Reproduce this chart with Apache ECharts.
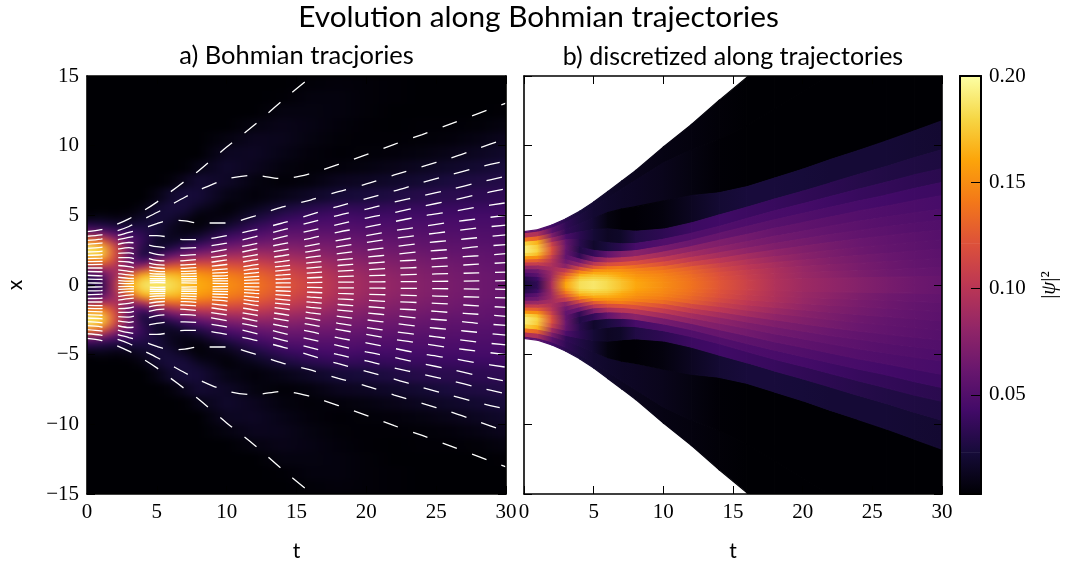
<!DOCTYPE html>
<html><head><meta charset="utf-8">
<style>
html,body{margin:0;padding:0;background:#fff}
#c{width:1077px;height:567px}
canvas[data-zr-dom-id="zr_0"]{background:#000;filter:blur(3px);clip-path:inset(76px 571px 73px 87px)}
canvas[data-zr-dom-id="zr_1"]{filter:blur(.5px);clip-path:inset(76px 135px 73px 524px)}
</style>
<script src="https://cdn.jsdelivr.net/npm/echarts@6/dist/echarts.min.js"></script>
</head><body><div id="c"></div>
<script>
const mainTitle='Evolution along Bohmian trajectories';
const titleA='a) Bohmian tracjories', titleB='b) discretized along trajectories';
const infernoStops=['#000004','#160b39','#420a68','#6a176e','#932667','#bc3754','#dd513a','#f37819','#fca50a','#f6d746','#fcffa4'];
const vMin=0.0034, vMax=0.2;
const cbarTicks=[0.05,0.10,0.15,0.20];
const tSamples=[0,1,2,3,4,5,6,7,8,10,12,14,16,18,20,22,24,26,28,30];
// upper half rows of the |psi|^2 picture (mirrored about x=0), thousandths, one list per tSample; missing tail = 1
const rowEdges=[0,.5,1,1.5,2,2.5,3,3.5,4,4.5,5,5.5,6,7,8,9,10,11,12,13,14,15];
const rho=[
[22,38,80,140,185,190,140,70,35,12,3,1],
[35,55,92,145,178,172,125,66,30,14,5,2,1],
[95,88,95,110,120,115,85,50,26,11,4,2,1],
[160,125,80,60,62,65,56,40,25,13,6,3,1],
[184,165,100,45,25,30,35,32,25,18,12,7,3,1],
[188,170,125,72,35,18,18,23,24,23,22,18,9,3,1],
[182,170,135,90,52,26,14,13,14,20,23,24,19,6,2,1],
[172,164,136,100,65,38,20,10,8,11,20,24,23,13,4,1],
[162,155,134,105,75,48,28,15,6,5,9,17,22,20,10,3,1],
[150,144,128,108,86,66,48,34,20,11,6,5,10,16,18,14,8,2,1],
[138,133,122,106,90,74,59,47,36,26,17,10,6,8,13,15,13,8,3,1],
[124,118,110,98,86,75,65,56,47,38,29,21,10,5,7,10,12,11,8,4,2],
[110,106,100,91,81,72,64,57,50,43,36,28,16,7,5,6,8,9,8,7,5],
[96,94,88,82,74,69,63,56,51,46,40,33,22,13,6,4,5,6,7,7,6],
[87,85,81,76,70,65,60,54,49,44,38,33,24,15,8,5,4,4,5,5,5],
[81,79,76,72,67,63,58,53,49,45,40,35,27,18,11,6,4,3,3,4,4],
[75,74,71,68,64,60,56,52,49,45,41,37,30,21,14,8,5,4,3,3,3],
[69,68,66,64,60,57,54,51,48,45,41,38,32,25,17,11,6,4,3,2,2],
[64,64,62,60,58,55,52,50,47,45,42,38,33,27,20,14,9,5,3,2,1],
[60,60,58,57,55,53,51,49,47,45,42,39,34,29,24,18,13,8,4,2,1]];
// upper half trajectories x(t) at tSamples, outermost first (mirrored for the lower half)
const traj=[
[3.83,3.97,4.3,4.75,5.3,5.95,6.7,7.45,8.2,9.9,11.5,13.25,14.9,16.6,18.3,20,21.7,23.4,25.1,26.8],
[3.5,3.6,3.85,4.2,4.7,5.2,5.75,6.3,6.8,7.6,7.87,7.63,8,8.65,9.35,10.1,10.8,11.55,12.3,13.05],
[3.2,3.3,3.5,3.78,4.05,4.4,4.65,4.6,4.45,4.45,4.95,5.6,6.1,6.7,7.25,7.9,8.5,9.1,9.8,10.5],
[2.92,3,3.2,3.42,3.55,3.55,3.4,3.25,3.25,3.55,3.95,4.45,5.05,5.65,6.2,6.75,7.35,7.9,8.45,8.9],
[2.63,2.7,2.88,3.05,2.95,2.75,2.65,2.65,2.7,3,3.45,3.95,4.5,5,5.45,5.95,6.4,6.85,7.35,7.8],
[2.37,2.42,2.55,2.68,2.45,2.2,2.12,2.13,2.2,2.56,2.95,3.45,3.9,4.35,4.8,5.2,5.65,6.05,6.5,6.9],
[2.13,2.17,2.25,2.3,2.02,1.77,1.72,1.75,1.85,2.15,2.55,2.95,3.35,3.8,4.15,4.55,4.95,5.25,5.6,5.9],
[1.9,1.93,1.97,1.96,1.68,1.46,1.42,1.45,1.52,1.8,2.15,2.5,2.85,3.2,3.55,3.9,4.2,4.5,4.75,5],
[1.68,1.7,1.7,1.65,1.4,1.22,1.18,1.2,1.26,1.47,1.8,2.1,2.42,2.75,3.05,3.35,3.6,3.85,4.1,4.3],
[1.46,1.48,1.42,1.32,1.12,.98,.96,.98,1.02,1.15,1.45,1.7,2,2.25,2.5,2.75,3,3.2,3.4,3.6],
[1.22,1.22,1.12,.98,.88,.79,.78,.8,.83,.9,1.15,1.35,1.6,1.8,2,2.2,2.4,2.55,2.75,2.9],
[.97,.95,.85,.72,.66,.62,.61,.62,.63,.68,.87,1.05,1.23,1.4,1.55,1.7,1.82,1.97,2.1,2.25],
[.7,.66,.58,.48,.46,.45,.45,.45,.45,.47,.6,.72,.87,1,1.1,1.2,1.27,1.37,1.5,1.6],
[.42,.4,.34,.28,.3,.31,.3,.3,.3,.3,.37,.43,.52,.6,.66,.72,.77,.82,.87,.92],
[.15,.14,.12,.1,.14,.17,.15,.15,.13,.1,.13,.15,.17,.2,.22,.24,.25,.27,.29,.31]];
// colour of each discretized band (one per trajectory) at tSamples, thousandths
const bandRho=[
[60,55,42,32,24,20,17,14,12,9,7,5,3,2,1,1,1,1,1,1],
[100,95,55,35,26,20,18,16,15,12,8,4,3,3,3,3,3,3,3,3],
[140,130,72,36,28,20,8,4,4,7,14,21,24,24,23,22,22,22,21,20],
[180,165,90,48,33,22,15,17,28,34,40,42,40,38,35,33,30,28,27,26],
[192,175,110,60,32,18,25,33,45,50,50,50,48,46,44,41,38,36,34,32],
[192,178,120,63,28,36,58,72,78,68,62,60,56,53,50,47,45,43,41,40],
[182,170,118,60,34,70,93,100,100,88,78,72,66,60,57,54,51,49,47,45],
[155,150,108,58,62,100,118,122,120,105,90,80,72,66,62,58,55,52,50,48],
[130,128,100,64,85,125,140,143,135,120,103,90,80,72,67,62,58,55,52,50],
[105,108,94,76,118,150,155,152,146,135,115,102,90,80,73,67,62,58,55,52],
[80,85,90,105,145,163,164,158,150,142,128,110,97,86,77,70,64,59,56,53],
[60,65,87,125,164,173,171,162,154,146,132,116,102,91,81,73,67,62,58,55],
[45,55,88,140,174,179,176,166,157,148,135,120,106,94,84,76,69,64,59,56],
[30,42,90,152,180,184,180,170,160,149,137,122,108,95,85,78,71,65,61,58],
[25,35,94,160,184,188,182,172,162,150,138,124,110,96,87,81,75,69,64,60]];

const SERIF='"Liberation Serif",serif', SANS='Lato,sans-serif';
const colorOf=m=>echarts.color.lerp(Math.min(1,Math.max(0,(m/1000-vMin)/(vMax-vMin))),infernoStops);
const hGrad=(a,b)=>({type:'linear',x:0,y:0,x2:1,y2:0,colorStops:[{offset:0,color:colorOf(a)},{offset:1,color:colorOf(b)}]});

// panel a cells
const heatData=[];
function addHeat(t0,t1,c0,c1){
  for(let r=0;r<rowEdges.length-1;r++){
    const a=rho[c0][r]??1,b=rho[c1][r]??1;
    heatData.push([t0,t1,rowEdges[r],rowEdges[r+1],a,b]);
    heatData.push([t0,t1,-rowEdges[r+1],-rowEdges[r],a,b]);
  }
}
addHeat(-2,0,0,0);
for(let j=0;j<tSamples.length-1;j++) addHeat(tSamples[j],tSamples[j+1],j,j+1);
addHeat(30,32,tSamples.length-1,tSamples.length-1);

// panel b cells: edges are half way between neighbouring trajectories
const bandData=[];
for(let i=0;i<traj.length;i++){
  for(let j=0;j<tSamples.length-1;j++){
    const up=k=>i===0?traj[0][k]:(traj[i-1][k]+traj[i][k])/2;
    const lo=k=>i===traj.length-1?0:(traj[i][k]+traj[i+1][k])/2;
    const t0=tSamples[j],t1=tSamples[j+1],a=bandRho[i][j],b=bandRho[i][j+1];
    bandData.push([t0,t1,up(j),up(j+1),lo(j),lo(j+1),a,b]);
    bandData.push([t0,t1,-lo(j),-lo(j+1),-up(j),-up(j+1),a,b]);
  }
}
const cbarData=infernoStops.slice(0,-1).map((c,i)=>[i,i+1]);

const renderHeat=(p,api)=>{
  const a=api.coord([api.value(0),api.value(3)]),b=api.coord([api.value(1),api.value(2)]);
  return {type:'rect',shape:{x:a[0],y:a[1],width:b[0]-a[0]+.5,height:b[1]-a[1]+.5},style:{fill:hGrad(api.value(4),api.value(5))}};
};
const renderBand=(p,api)=>{
  const pts=[api.coord([api.value(0),api.value(2)]),api.coord([api.value(1),api.value(3)]),api.coord([api.value(1),api.value(5)]),api.coord([api.value(0),api.value(4)])];
  const f=hGrad(api.value(6),api.value(7));
  return {type:'polygon',shape:{points:pts},style:{fill:f,stroke:f,lineWidth:1.2}};
};
const nS=infernoStops.length-1;
const renderCbar=(p,api)=>{
  const i=api.value(0),v0=vMin+(vMax-vMin)*i/nS,v1=vMin+(vMax-vMin)*(i+1)/nS;
  const a=api.coord([0,v1]),b=api.coord([1,v0]);
  return {type:'rect',shape:{x:a[0],y:a[1],width:b[0]-a[0],height:b[1]-a[1]+.5},
    style:{fill:{type:'linear',x:0,y:1,x2:0,y2:0,colorStops:[{offset:0,color:infernoStops[i]},{offset:1,color:infernoStops[i+1]}]}}};
};

const line={show:true,onZero:false,lineStyle:{color:'#000',width:1.6}};
const tick={show:true,inside:true,length:8,lineStyle:{color:'#000',width:1}};
const lab={show:true,fontFamily:SERIF,fontSize:21,color:'#000',margin:8};
const nameSt={fontFamily:SANS,fontSize:21,color:'#000'};
const ZL=2;
function xAx(g,pos,o){return Object.assign({type:'value',gridIndex:g,position:pos,min:0,max:30,interval:5,zlevel:ZL,z:6,splitLine:{show:false},axisLine:line,axisTick:tick,axisLabel:pos==='bottom'?lab:{show:false}},o||{});}
function yAx(g,pos,o){return Object.assign({type:'value',gridIndex:g,position:pos,min:-15,max:15,interval:5,zlevel:ZL,z:6,splitLine:{show:false},axisLine:line,axisTick:tick,axisLabel:{show:false}},o||{});}
const plainX=(pos)=>({type:'value',gridIndex:2,position:pos,min:0,max:1,zlevel:ZL,z:6,splitLine:{show:false},axisLine:{show:true,onZero:false,lineStyle:{color:'#000',width:2}},axisTick:{show:false},axisLabel:{show:false}});

const lineSeries=[];
traj.forEach(tr=>[1,-1].forEach(s=>lineSeries.push({type:'line',xAxisIndex:0,yAxisIndex:0,zlevel:ZL,z:3,symbol:'none',smooth:.3,silent:true,
  lineStyle:{color:'#fff',width:1.3,type:[15.7,15.7]},data:tr.map((v,i)=>[tSamples[i],s*v])})));

const chart=echarts.init(document.getElementById('c'),null,{renderer:'canvas'});
chart.setOption({
  animation:false,
  title:{text:mainTitle,left:'center',top:-3,zlevel:ZL,textStyle:{fontFamily:SANS,fontSize:29.8,fontWeight:'normal',color:'#000'}},
  grid:[
    {left:87,top:76,width:419,height:418},
    {left:524,top:76,width:418,height:418},
    {left:960,top:76,width:21,height:418}],
  xAxis:[
    xAx(0,'bottom',{name:'t',nameLocation:'middle',nameGap:47,nameTextStyle:nameSt}),
    xAx(0,'top',{name:titleA,nameLocation:'middle',nameGap:7,nameTextStyle:Object.assign({},nameSt,{fontSize:25.5})}),
    xAx(1,'bottom',{name:'t',nameLocation:'middle',nameGap:47,nameTextStyle:nameSt}),
    xAx(1,'top',{name:titleB,nameLocation:'middle',nameGap:7,nameTextStyle:Object.assign({},nameSt,{fontSize:25})}),
    plainX('bottom'),plainX('top')],
  yAxis:[
    yAx(0,'left',{name:'x',nameLocation:'middle',nameRotate:90,nameGap:61,nameTextStyle:nameSt,
      axisLabel:Object.assign({},lab,{formatter:v=>String(v).replace('-','\u2212')})}),
    yAx(0,'right'),
    yAx(1,'left'),
    yAx(1,'right'),
    {type:'value',gridIndex:2,position:'right',min:vMin,max:vMax,zlevel:ZL,z:6,splitLine:{show:false},
      axisLine:{show:true,onZero:false,lineStyle:{color:'#000',width:2}},
      axisTick:{show:true,inside:true,length:10,customValues:cbarTicks,lineStyle:{color:'#000',width:1}},
      axisLabel:Object.assign({},lab,{margin:8,customValues:cbarTicks,formatter:v=>v.toFixed(2)}),
      name:'|{i|\u03c8}|\u00b2',nameLocation:'middle',nameRotate:90,nameGap:58,
      nameTextStyle:Object.assign({},nameSt,{fontFamily:SERIF,rich:{i:{fontFamily:SERIF,fontStyle:'italic',fontSize:21}}})},
    {type:'value',gridIndex:2,position:'left',min:vMin,max:vMax,zlevel:ZL,z:6,splitLine:{show:false},
      axisLine:{show:true,onZero:false,lineStyle:{color:'#000',width:2}},axisTick:{show:false},axisLabel:{show:false}}],
  series:[
    {type:'custom',name:'density',xAxisIndex:0,yAxisIndex:0,zlevel:0,silent:true,renderItem:renderHeat,encode:{x:[0,1],y:[2,3]},data:heatData},
    {type:'custom',name:'discretized',xAxisIndex:2,yAxisIndex:2,zlevel:1,silent:true,renderItem:renderBand,encode:{x:[0,1],y:[2,3,4,5]},data:bandData},
    {type:'custom',name:'colorbar',xAxisIndex:4,yAxisIndex:4,zlevel:ZL,z:2,silent:true,renderItem:renderCbar,data:cbarData},
    ...lineSeries]
});
</script></body></html>
